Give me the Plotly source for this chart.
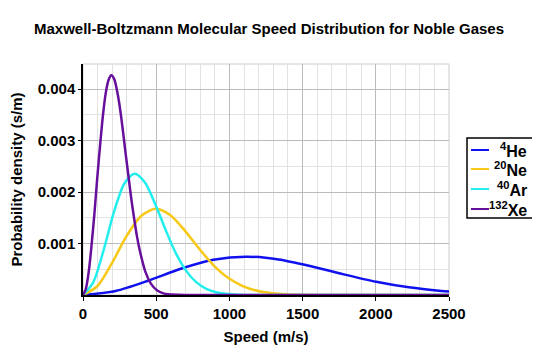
import plotly.graph_objects as go

# Speeds (m/s) and probability densities (s/m)
he_speed = [0, 223, 445, 668, 890, 1113, 1336, 1558, 1781, 2003, 2226, 2449, 2500]
he_density = [0, 7.79e-5, 2.765e-4, 5.093e-4, 6.843e-4, 7.459e-4, 6.918e-4,
              5.598e-4, 4.013e-4, 2.573e-4, 1.486e-4, 7.76e-5, 6.59e-5]

ne_speed = [0, 99, 198, 297, 397, 496, 595, 694, 793, 892, 991, 1091, 1190,
            1289, 1388, 1487, 1700, 2500]
ne_density = [0, 1.750e-4, 6.207e-4, 1.1435e-3, 1.5364e-3, 1.6749e-3, 1.5533e-3,
              1.2570e-3, 9.010e-4, 5.777e-4, 3.336e-4, 1.742e-4, 8.26e-5,
              3.57e-5, 1.41e-5, 5.1e-6, 0, 0]

ar_speed = [0, 70, 141, 211, 282, 352, 423, 493, 564, 634, 705, 775, 846,
            916, 986, 1057, 1250, 2500]
ar_density = [0, 2.462e-4, 8.734e-4, 1.6089e-3, 2.1618e-3, 2.3566e-3, 2.1856e-3,
              1.7686e-3, 1.2677e-3, 8.129e-4, 4.693e-4, 2.452e-4, 1.163e-4,
              5.02e-5, 1.98e-5, 7.1e-6, 0, 0]

xe_speed = [0, 19, 39, 58, 78, 97, 117, 136, 155, 175, 194, 214, 233, 253,
            272, 291, 311, 330, 350, 369, 389, 427, 466, 505, 544, 583, 700, 2500]
xe_density = [0, 1.150e-4, 4.464e-4, 9.554e-4, 1.5836e-3, 2.2615e-3, 2.9173e-3,
              3.4867e-3, 3.9197e-3, 4.1853e-3, 4.2729e-3, 4.1910e-3, 3.9628e-3,
              3.6220e-3, 3.2067e-3, 2.7545e-3, 2.2986e-3, 1.8656e-3, 1.4739e-3,
              1.1343e-3, 8.510e-4, 4.445e-4, 2.108e-4, 9.10e-5, 3.58e-5, 1.29e-5,
              0, 0]

series_names = ["<sup>4</sup>He", "<sup>20</sup>Ne", "<sup>40</sup>Ar", "<sup>132</sup>Xe"]
series_colors = ["#1111ee", "#f7c815", "#22eeee", "#670f9c"]

x_ticks = [0, 500, 1000, 1500, 2000, 2500]
y_ticks = [0.001, 0.002, 0.003, 0.004]
y_tick_labels = ["0.001", "0.002", "0.003", "0.004"]

font_family = "Liberation Sans, Arial, sans-serif"

fig = go.Figure()
for spd, dens, name, col in zip([he_speed, ne_speed, ar_speed, xe_speed],
                                [he_density, ne_density, ar_density, xe_density],
                                series_names, series_colors):
    fig.add_trace(go.Scatter(x=spd, y=dens, mode="lines", name=name, showlegend=False,
                             line=dict(color=col, width=2.5, shape="spline", smoothing=0.8)))

# the page body has an 8px default margin, so the figure is sized to fit inside it
fig.update_layout(
    width=532, height=349,
    margin=dict(l=75, r=91, t=56, b=62),
    paper_bgcolor="white", plot_bgcolor="white",
    font=dict(family=font_family, color="black"),
    title=dict(text="<b>Maxwell-Boltzmann Molecular Speed Distribution for Noble Gases</b>",
               x=0.4906, xanchor="center", y=0.9398, yanchor="middle",
               font=dict(size=15, family=font_family, color="black")),
    showlegend=False,
)

fig.update_xaxes(
    range=[0, 2500], tickvals=x_ticks, ticktext=[f"<b>{v}</b>" for v in x_ticks],
    tickfont=dict(size=15), ticks="outside", ticklen=4, tickcolor="black",
    showline=True, linecolor="black", linewidth=1.5, mirror=False,
    showgrid=True, gridcolor="#bbbbbb", gridwidth=1,
    minor=dict(dtick=100, showgrid=True, gridcolor="#e2e2e2", gridwidth=1),
    zeroline=False, automargin=False,
    title=dict(text="<b>Speed (m/s)</b>", font=dict(size=15), standoff=11),
)
fig.update_yaxes(
    range=[0, 0.00449], tickvals=y_ticks, ticktext=[f"<b>{t}</b>" for t in y_tick_labels],
    tickfont=dict(size=15), ticks="outside", ticklen=3, tickcolor="black",
    ticklabelstandoff=0,
    showline=True, linecolor="black", linewidth=1.5,
    showgrid=True, gridcolor="#bbbbbb", gridwidth=1,
    minor=dict(dtick=0.0005, tick0=0, showgrid=True, gridcolor="#e2e2e2", gridwidth=1),
    zeroline=False, automargin=False,
    title=dict(text="<b>Probability density (s/m)</b>", font=dict(size=15), standoff=13),
)

# top and right frame in light gray
fig.add_shape(type="rect", xref="paper", yref="paper", x0=0, y0=0, x1=1, y1=1,
              line=dict(color="#cccccc", width=1), layer="below")

# legend box drawn in paper coordinates
fig.add_shape(type="rect", xref="paper", yref="paper", x0=1.0492, x1=1.2404,
              y0=0.3333, y1=0.6797, line=dict(color="black", width=1.5),
              fillcolor="white")
legend_y = [0.6277, 0.5455, 0.4589, 0.3723]
for ly, name, col in zip(legend_y, series_names, series_colors):
    fig.add_shape(type="line", xref="paper", yref="paper", x0=1.0601, x1=1.1093,
                  y0=ly, y1=ly, line=dict(color=col, width=2))
    fig.add_annotation(xref="paper", yref="paper", x=1.2186, y=ly, xanchor="right",
                       yanchor="middle", showarrow=False, text=f"<b>{name}</b>",
                       font=dict(size=16, family=font_family, color="black"))

fig.write_html("out.html")
